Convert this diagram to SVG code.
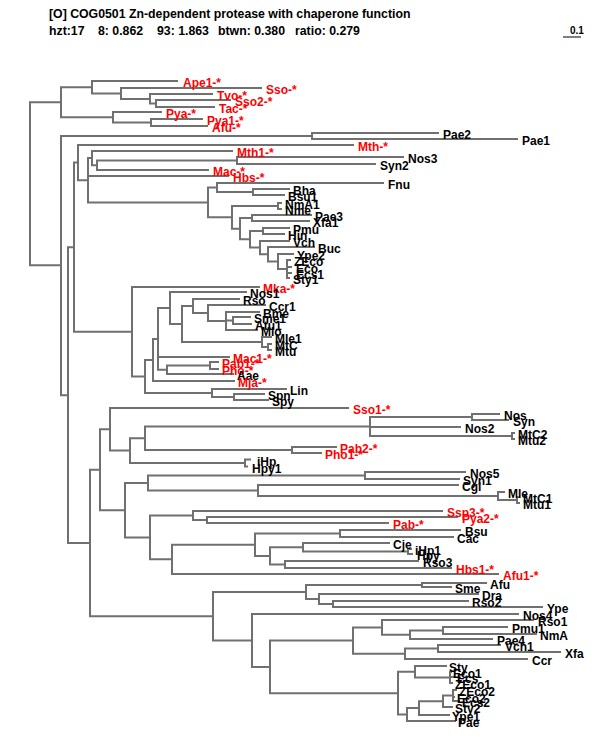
<svg xmlns="http://www.w3.org/2000/svg" width="600" height="750" viewBox="0 0 600 750">
<style>
.c{fill:none;stroke:#707070;stroke-width:2;stroke-linecap:square}
text{font-family:"Liberation Sans",Arial,Helvetica,sans-serif;font-weight:bold;font-size:12px;fill:#000}
.r{fill:#ff0000}
.h{font-size:12.3px}
.s{font-size:10px}
</style>
<rect width="600" height="750" fill="#fff"/>
<g id="title">
<text class="h" x="49" y="18">[O] COG0501 Zn-dependent protease with chaperone function</text>
<text class="h" x="49" y="35">hzt:17</text>
<text class="h" x="98" y="35">8: 0.862</text>
<text class="h" x="157" y="35">93: 1.863</text>
<text class="h" x="218" y="35">btwn: 0.380</text>
<text class="h" x="295" y="35">ratio: 0.279</text>
</g>
<g id="scale">
<path d="M563,37H581" stroke="#555" stroke-width="1.5"/>
<text class="s" x="570" y="34">0.1</text>
</g>
<g id="connectors" class="c">
<path d="M30,102.25V265.3M30,102.25H61M30,265.3H61"/>
<path d="M61,87.25V117.25M61,87.25H92M61,117.25H113"/>
<path d="M92,81V93.5M92,81H177M92,93.5H121"/>
<path d="M121,88V99M121,88H261M121,99H150"/>
<path d="M150,94V103.5M150,94H212M150,103.5H156"/>
<path d="M156,100V107M156,100H230M156,107H214"/>
<path d="M113,112V122.5M113,112H161M113,122.5H151"/>
<path d="M151,119V126M151,119H202M151,126H207"/>
<path d="M61,136V395.15M61,136H312M61,395.15H68"/>
<path d="M312,133V139M312,133H438M312,139H517"/>
<path d="M68,247.2V543M68,247.2H74M68,543H90"/>
<path d="M74,162.6V331.75M74,162.6H78M74,331.75H132"/>
<path d="M78,145V180.25M78,145H353M78,180.25H88"/>
<path d="M88,158.1V202.4M88,158.1H92M88,176H228M88,202.4H208"/>
<path d="M92,151V165.25M92,151H232M92,165.25H97"/>
<path d="M97,160.5V170M97,160.5H237M97,170H208"/>
<path d="M237,157V164M237,157H403M237,164H375"/>
<path d="M208,187.5V217.3M208,187.5H217M208,217.3H232"/>
<path d="M217,183V192M217,183H383M217,192H253"/>
<path d="M253,189V195M253,189H289M253,195H284"/>
<path d="M232,206V228.65M232,206H278M232,228.65H240"/>
<path d="M278,203V209M278,203H281M278,209H281"/>
<path d="M240,218V239.3M240,218H252M240,239.3H250"/>
<path d="M252,215V221M252,215H311M252,221H309"/>
<path d="M250,231V247.6M250,231H263M250,247.6H260"/>
<path d="M263,228V234M263,228H289M263,234H284"/>
<path d="M260,241V254.25M260,241H289M260,254.25H268"/>
<path d="M268,247V261.5M268,247H314M268,261.5H278"/>
<path d="M278,254V269M278,254H293M278,269H287"/>
<path d="M287,260V278M287,260H290M287,267H291M287,273H291M287,278H289"/>
<path d="M132,287V376.5M132,287H259M132,376.5H145"/>
<path d="M145,360V393M145,360H153M145,393H212"/>
<path d="M153,338.9V381M153,338.9H158M153,381H234"/>
<path d="M158,308V369.75M158,308H170M158,357H229M158,369.75H167"/>
<path d="M170,292V324M170,292H246M170,324H182"/>
<path d="M182,306V342M182,306H193M182,342H262"/>
<path d="M193,299V313M193,299H239M193,313H208"/>
<path d="M208,305V321M208,305H265M208,321H226"/>
<path d="M226,312V330M226,312H259M226,320.5H233M226,330H257"/>
<path d="M233,317V324M233,317H250M233,324H251"/>
<path d="M262,337V347M262,337H271M262,347H268"/>
<path d="M268,344V350M268,344H271M268,350H271"/>
<path d="M167,365.5V374M167,365.5H210M167,374H233"/>
<path d="M210,362V369M210,362H218M210,369H218"/>
<path d="M212,389V397M212,389H286M212,397H234"/>
<path d="M234,394V400M234,394H264M234,400H268"/>
<path d="M90,469.75V616.2M90,469.75H100M90,616.2H213"/>
<path d="M100,429.3V510.2M100,429.3H110M100,510.2H125"/>
<path d="M110,408V450.6M110,408H348M110,450.6H130"/>
<path d="M130,438.25V463M130,438.25H145M130,463H245"/>
<path d="M145,426.5V450M145,426.5H370M145,450H292"/>
<path d="M370,417V436M370,417H472M370,427H460M370,436H512"/>
<path d="M472,414V420M472,414H499M472,420H508"/>
<path d="M512,433V439M512,433H514M512,439H514"/>
<path d="M292,447V453M292,447H336M292,453H321"/>
<path d="M245,459.5V466.5M245,459.5H250M245,466.5H247"/>
<path d="M125,483V537.4M125,483H148M125,537.4H150"/>
<path d="M148,475.5V490.5M148,475.5H365M148,490.5H258"/>
<path d="M365,472V479M365,472H465M365,479H459"/>
<path d="M258,485V496M258,485H458M258,496H498"/>
<path d="M498,492V500M498,492H504M498,500H517"/>
<path d="M517,497V503M517,497H519M517,503H519"/>
<path d="M150,515.5V559.35M150,515.5H193M150,559.35H172"/>
<path d="M193,511V520M193,511H442M193,520H207"/>
<path d="M207,517V523M207,517H457M207,523H388"/>
<path d="M172,544.7V574M172,544.7H255M172,574H498"/>
<path d="M255,533.5V555.9M255,533.5H340M255,555.9H270"/>
<path d="M340,530V537M340,530H460M340,537H453"/>
<path d="M270,547.25V564.5M270,547.25H303M270,564.5H285"/>
<path d="M303,543V551.5M303,543H389M303,551.5H408"/>
<path d="M408,549V554M408,549H411M408,554H412"/>
<path d="M285,561V568M285,561H418M285,568H451"/>
<path d="M213,592V640.45M213,592H306M213,640.45H252"/>
<path d="M306,585V599M306,585H422M306,599H319"/>
<path d="M422,583V587M422,583H486M422,587H451"/>
<path d="M319,594V604M319,594H478M319,604H333"/>
<path d="M333,601V607M333,601H468M333,607H542"/>
<path d="M252,614V666.9M252,614H518M252,666.9H270"/>
<path d="M270,640.6V693.15M270,640.6H353M270,693.15H398"/>
<path d="M353,627.4V653.75M353,627.4H382M353,653.75H405"/>
<path d="M382,620V634.75M382,620H533M382,634.75H410"/>
<path d="M410,630.5V639M410,630.5H443M410,639H492"/>
<path d="M443,627V634M443,627H507M443,634H536"/>
<path d="M405,648.5V659M405,648.5H438M405,659H527"/>
<path d="M438,645V652M438,645H500M438,652H560"/>
<path d="M398,671.75V714.55M398,671.75H415M398,714.55H407"/>
<path d="M415,666V677.5M415,666H446M415,677.5H450"/>
<path d="M450,672V683M450,672H451M450,677H454M450,683H452"/>
<path d="M407,708.1V721M407,708.1H419M407,721H455"/>
<path d="M419,701.25V715M419,701.25H443M419,715H449"/>
<path d="M443,695.5V707M443,695.5H453M443,707H452"/>
<path d="M453,690V701M453,690H456M453,697H454M453,701H459"/>
</g>
<g id="n_Ape1s"><text class="r" x="183" y="87">Ape1-*</text></g>
<g id="n_Ssos"><text class="r" x="266" y="94">Sso-*</text></g>
<g id="n_Tvos"><text class="r" x="217" y="100">Tvo-*</text></g>
<g id="n_Sso2s"><text class="r" x="235" y="106">Sso2-*</text></g>
<g id="n_Tacs"><text class="r" x="219" y="113">Tac-*</text></g>
<g id="n_Pyas"><text class="r" x="166" y="118">Pya-*</text></g>
<g id="n_Pya1s"><text class="r" x="207" y="125">Pya1-*</text></g>
<g id="n_Afus"><text class="r" x="212" y="132">Afu-*</text></g>
<g id="n_Pae2"><text x="443" y="139">Pae2</text></g>
<g id="n_Pae1"><text x="522" y="145">Pae1</text></g>
<g id="n_Mths"><text class="r" x="358" y="151">Mth-*</text></g>
<g id="n_Mth1s"><text class="r" x="237" y="157">Mth1-*</text></g>
<g id="n_Nos3"><text x="408" y="163">Nos3</text></g>
<g id="n_Syn2"><text x="380" y="170">Syn2</text></g>
<g id="n_Macs"><text class="r" x="213" y="176">Mac-*</text></g>
<g id="n_Hbss"><text class="r" x="233" y="182">Hbs-*</text></g>
<g id="n_Fnu"><text x="388" y="189">Fnu</text></g>
<g id="n_Bha"><text x="293" y="195">Bha</text></g>
<g id="n_Bsu1"><text x="288" y="201">Bsu1</text></g>
<g id="n_NmA1"><text x="285" y="209">NmA1</text></g>
<g id="n_Nme"><text x="285" y="215">Nme</text></g>
<g id="n_Pae3"><text x="315" y="221">Pae3</text></g>
<g id="n_Xfa1"><text x="313" y="227">Xfa1</text></g>
<g id="n_Pmu"><text x="293" y="234">Pmu</text></g>
<g id="n_Hin"><text x="288" y="240">Hin</text></g>
<g id="n_Vch"><text x="293" y="247">Vch</text></g>
<g id="n_Buc"><text x="318" y="253">Buc</text></g>
<g id="n_Ype2"><text x="297" y="260">Ype2</text></g>
<g id="n_ZEco"><text x="294" y="266">ZEco</text></g>
<g id="n_Eco"><text x="296" y="273">Eco</text></g>
<g id="n_Ecs1"><text x="296" y="279">Ecs1</text></g>
<g id="n_Sty1"><text x="293" y="284">Sty1</text></g>
<g id="n_Mkas"><text class="r" x="263" y="293">Mka-*</text></g>
<g id="n_Nos1"><text x="250" y="298">Nos1</text></g>
<g id="n_Rso"><text x="243" y="305">Rso</text></g>
<g id="n_Ccr1"><text x="269" y="311">Ccr1</text></g>
<g id="n_Bme"><text x="263" y="318">Bme</text></g>
<g id="n_Sme1"><text x="254" y="323">Sme1</text></g>
<g id="n_Atu1"><text x="255" y="330">Atu1</text></g>
<g id="n_Mlo"><text x="261" y="336">Mlo</text></g>
<g id="n_Mle1"><text x="275" y="343">Mle1</text></g>
<g id="n_MtC"><text x="275" y="350">MtC</text></g>
<g id="n_Mtu"><text x="275" y="356">Mtu</text></g>
<g id="n_Mac1s"><text class="r" x="233" y="363">Mac1-*</text></g>
<g id="n_Pab1s"><text class="r" x="222" y="368">Pab1-*</text></g>
<g id="n_Phos"><text class="r" x="222" y="375">Pho-*</text></g>
<g id="n_Aae"><text x="237" y="380">Aae</text></g>
<g id="n_Mjas"><text class="r" x="238" y="387">Mja-*</text></g>
<g id="n_Lin"><text x="290" y="395">Lin</text></g>
<g id="n_Spn"><text x="268" y="400">Spn</text></g>
<g id="n_Spy"><text x="272" y="406">Spy</text></g>
<g id="n_Sso1s"><text class="r" x="353" y="414">Sso1-*</text></g>
<g id="n_Nos"><text x="504" y="420">Nos</text></g>
<g id="n_Syn"><text x="513" y="426">Syn</text></g>
<g id="n_Nos2"><text x="465" y="433">Nos2</text></g>
<g id="n_MtC2"><text x="518" y="439">MtC2</text></g>
<g id="n_Mtu2"><text x="518" y="445">Mtu2</text></g>
<g id="n_Pab2s"><text class="r" x="340" y="453">Pab2-*</text></g>
<g id="n_Pho1s"><text class="r" x="325" y="459">Pho1-*</text></g>
<g id="n_iHp"><text x="257" y="465.5">iHp</text></g>
<g id="n_Hpy1"><text x="252" y="472.5">Hpy1</text></g>
<g id="n_Nos5"><text x="470" y="478">Nos5</text></g>
<g id="n_Syn1"><text x="463" y="485">Syn1</text></g>
<g id="n_Cgl"><text x="462" y="491">Cgl</text></g>
<g id="n_Mle"><text x="508" y="498">Mle</text></g>
<g id="n_MtC1"><text x="523" y="503">MtC1</text></g>
<g id="n_Mtu1"><text x="523" y="509">Mtu1</text></g>
<g id="n_Ssp3s"><text class="r" x="447" y="517">Ssp3-*</text></g>
<g id="n_Pya2s"><text class="r" x="462" y="523">Pya2-*</text></g>
<g id="n_Pabs"><text class="r" x="393" y="529">Pab-*</text></g>
<g id="n_Bsu"><text x="465" y="536">Bsu</text></g>
<g id="n_Cac"><text x="457" y="543">Cac</text></g>
<g id="n_Cje"><text x="393" y="549">Cje</text></g>
<g id="n_iHp1"><text x="415" y="555">iHp1</text></g>
<g id="n_Hpy"><text x="417" y="560">Hpy</text></g>
<g id="n_Rso3"><text x="423" y="567">Rso3</text></g>
<g id="n_Hbs1s"><text class="r" x="456" y="574">Hbs1-*</text></g>
<g id="n_Afu1s"><text class="r" x="503" y="580">Afu1-*</text></g>
<g id="n_Afu"><text x="490" y="589">Afu</text></g>
<g id="n_Sme"><text x="455" y="593">Sme</text></g>
<g id="n_Dra"><text x="482" y="600">Dra</text></g>
<g id="n_Rso2"><text x="472" y="607">Rso2</text></g>
<g id="n_Ype"><text x="547" y="613">Ype</text></g>
<g id="n_Nos4"><text x="523" y="620">Nos4</text></g>
<g id="n_Rso1"><text x="538" y="626">Rso1</text></g>
<g id="n_Pmu1"><text x="512" y="633">Pmu1</text></g>
<g id="n_NmA"><text x="540" y="640">NmA</text></g>
<g id="n_Pae4"><text x="497" y="645">Pae4</text></g>
<g id="n_Vch1"><text x="505" y="651">Vch1</text></g>
<g id="n_Xfa"><text x="565" y="658">Xfa</text></g>
<g id="n_Ccr"><text x="532" y="665">Ccr</text></g>
<g id="n_Sty"><text x="449" y="672">Sty</text></g>
<g id="n_Eco1"><text x="453" y="678">Eco1</text></g>
<g id="n_Ecs"><text x="457" y="683">Ecs</text></g>
<g id="n_ZEco1"><text x="455" y="689">ZEco1</text></g>
<g id="n_ZEco2"><text x="459" y="696">ZEco2</text></g>
<g id="n_Eco2"><text x="457" y="703">Eco2</text></g>
<g id="n_Ecs2"><text x="462" y="707">Ecs2</text></g>
<g id="n_Sty2"><text x="455" y="713">Sty2</text></g>
<g id="n_Ype1"><text x="452" y="721">Ype1</text></g>
<g id="n_Pae"><text x="458" y="727">Pae</text></g>
</svg>
